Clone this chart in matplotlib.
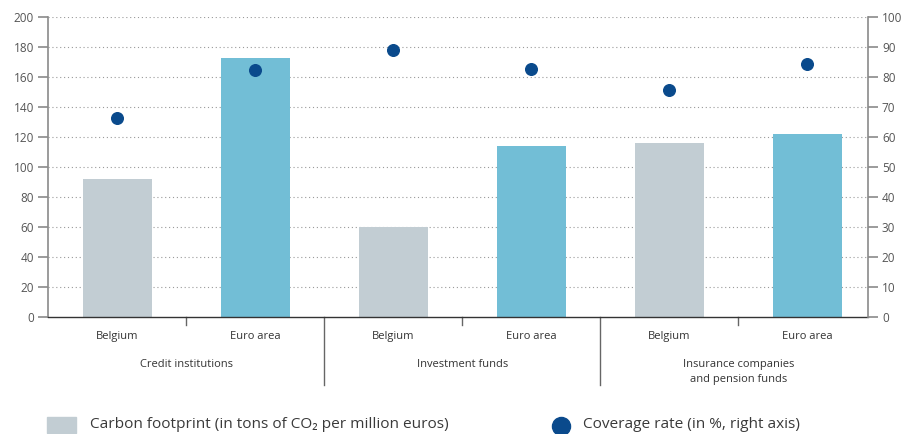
import matplotlib
matplotlib.use("Agg")
import matplotlib.pyplot as plt
from matplotlib.lines import Line2D

plt.rcParams['font.family'] = ['Open Sans', 'DejaVu Sans']

categories = ["Belgium", "Euro area", "Belgium", "Euro area", "Belgium", "Euro area"]
groups = ["Credit institutions", "Investment funds", "Insurance companies\nand pension funds"]
carbon = [92, 173, 60, 114, 116, 122]
coverage = [66.3, 82.5, 89, 82.7, 75.7, 84.3]
left_ticks = list(range(0, 201, 20))
right_ticks = list(range(0, 101, 10))

bar_colors = ["#c2cdd3", "#72bed6"] * 3
dot_color = "#0a4a8c"
tick_col = "#555555"
spine_col = "#8a8a8a"

fig = plt.figure(figsize=(9.08, 4.34), dpi=100)
ax = fig.add_axes([48/908, 1-317/434, 820/908, 300/434])
ax2 = ax.twinx()

x = list(range(len(categories)))
ax.bar(x, carbon, width=0.5, color=bar_colors, zorder=2)
ax2.scatter(x, coverage, s=70, color=dot_color, zorder=3)

ax.set_xlim(-0.5, 5.44)
ax.set_ylim(0, 200)
ax2.set_ylim(0, 100)
ax.set_yticks(left_ticks)
ax2.set_yticks(right_ticks)

for y in left_ticks[1:]:
    ax.axhline(y, color="#9a9a9a", lw=0.8, ls=(0, (1, 2.5)), zorder=1)

for a in (ax, ax2):
    a.spines['top'].set_visible(False)
    a.tick_params(axis='y', length=7, width=1.2, color=spine_col, labelsize=8.5, labelcolor=tick_col, pad=3)
ax.spines['left'].set_color(spine_col)
ax.spines['left'].set_linewidth(1.2)
ax2.spines['right'].set_color(spine_col)
ax2.spines['right'].set_linewidth(1.2)
ax2.spines['left'].set_visible(False)
ax2.spines['bottom'].set_visible(False)
ax.spines['right'].set_visible(False)
ax.spines['bottom'].set_color("#333333")
ax.spines['bottom'].set_linewidth(1.0)

ax.set_xticks(x)
ax.set_xticklabels(categories, fontsize=8, color="#333333")
ax.tick_params(axis='x', length=0, pad=10)

# separators
trans = ax.get_xaxis_transform()
for b in [0.5, 1.5, 2.5, 3.5, 4.5]:
    if b in (1.5, 3.5):
        ax.plot([b, b], [0, -68/300], transform=trans, color="#666666", lw=1, clip_on=False)
    else:
        ax.plot([b, b], [0, -8/300], transform=trans, color="#666666", lw=1, clip_on=False)

for gi, g in enumerate(groups):
    ax.text(2*gi + 0.5, -42/300, g, transform=trans, ha='center', va='top',
            fontsize=8, color="#333333", linespacing=1.45)

# legend
fig.patches.append(plt.Rectangle((47/908, 1-433/434), 29/908, 16/434, transform=fig.transFigure,
                                 color="#c2cdd3"))
fig.text(90/908, 1-425/434, "Carbon footprint (in tons of CO\u2082 per million euros)", fontsize=11.1,
         color="#3a3a3a", va='center')
fig.add_artist(Line2D([561/908], [1-426/434], marker='o', markersize=13, color=dot_color,
                      transform=fig.transFigure, lw=0))
fig.text(583/908, 1-425/434, "Coverage rate (in %, right axis)", fontsize=11.1,
         color="#3a3a3a", va='center')

fig.savefig("out.png", dpi=100)
